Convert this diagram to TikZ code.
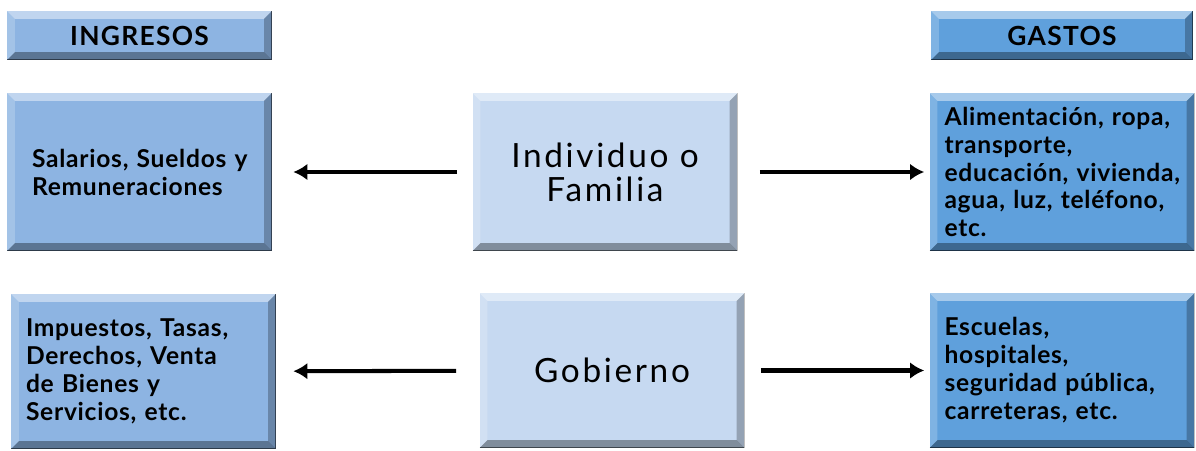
\documentclass[tikz,border=0pt]{standalone}
\usepackage{fontspec}
\setmainfont{Lato}
\newfontfamily\sidefont[LetterSpace=3]{Lato}
\newfontfamily\headfont[LetterSpace=5]{Lato}
\newfontfamily\midfont[LetterSpace=8]{Lato}
\usepackage{tikz}
\usetikzlibrary{positioning,arrows.meta}

\definecolor{ingcol}{HTML}{8DB4E2}
\definecolor{gascol}{HTML}{5FA0DC}
\definecolor{midcol}{HTML}{C6D9F1}
\newcommand{\bevw}{4.5pt}

\begin{document}
\begin{tikzpicture}[x=0.02cm,y=-0.02cm]
        \tikzstyle{bevel}=[path picture={
            \coordinate (pnw) at (path picture bounding box.north west);
            \coordinate (pne) at (path picture bounding box.north east);
            \coordinate (psw) at (path picture bounding box.south west);
            \coordinate (pse) at (path picture bounding box.south east);
            \fill[white,opacity=.45] (pnw) -- (pne) -- ([shift={(-\bevw,-\bevw)}]pne) -- ([shift={(\bevw,-\bevw)}]pnw) -- cycle;
            \fill[white,opacity=.2] (pnw) -- ([shift={(\bevw,-\bevw)}]pnw) -- ([shift={(\bevw,\bevw)}]psw) -- (psw) -- cycle;
            \fill[black,opacity=.25] (pne) -- (pse) -- ([shift={(-\bevw,\bevw)}]pse) -- ([shift={(-\bevw,-\bevw)}]pne) -- cycle;
            \fill[black,opacity=.35] (psw) -- (pse) -- ([shift={(-\bevw,\bevw)}]pse) -- ([shift={(\bevw,\bevw)}]psw) -- cycle;
            \draw[black,opacity=.5,line width=1pt] (pne) -- (pse) -- (psw);
        }]
        \tikzstyle{head}=[bevel,inner sep=0pt,minimum width=5.3cm,minimum height=0.98cm,font=\headfont\fontsize{15}{17}\selectfont\bfseries]
        \tikzstyle{side}=[bevel,inner xsep=0.3cm,inner ysep=0pt,text width=4.7cm,align=left,minimum height=3.16cm,font=\sidefont\fontsize{14}{15.9}\selectfont\bfseries]
        \tikzstyle{mid}=[bevel,fill=midcol,inner sep=0pt,minimum width=5.3cm,minimum height=3.16cm,align=center,font=\midfont\fontsize{19}{19.3}\selectfont]
        \tikzstyle{flow}=[line width=2.3pt,-{Latex[length=8pt,width=9.5pt]}]

        \useasboundingbox (0,0) rectangle (1196,450);

        \draw (139.5,35.5) node[head,fill=ingcol] (ingresos) {INGRESOS};
        \draw (1062,35.5) node[head,fill=gascol,minimum width=5.24cm] (gastos) {GASTOS};

        \draw (139.5,172) node[side,fill=ingcol] (salarios) {\hspace*{0.2cm}Salarios, Sueldos y\\\hspace*{0.2cm}Remuneraciones};
        \draw (605,172) node[mid] (familia) {Individuo o\\Familia};
        \draw (1062,172) node[side,fill=gascol] (alimentos) {Alimentación, ropa,\\transporte,\\educación, vivienda,\\agua, luz, teléfono,\\etc.};

        \draw (143.5,371.5) node[side,fill=ingcol,minimum height=3.1cm] (impuestos) {Impuestos, Tasas,\\Derechos, Venta\\de Bienes y\\Servicios, etc.};
        \draw (612,370.5) node[mid,minimum height=3.1cm] (gobierno) {Gobierno};
        \draw (1062,370.5) node[side,fill=gascol,minimum height=3.1cm] (escuelas) {Escuelas,\\hospitales,\\seguridad pública,\\carreteras, etc.};

        \draw[flow,shorten <=0.3cm,shorten >=0.42cm] (familia) -- (salarios);
        \draw[flow,shorten <=0.44cm,shorten >=0.1cm] (familia) -- (alimentos);
        \draw[flow,shorten <=0.46cm,shorten >=0.34cm] (gobierno) -- (impuestos);
        \draw[flow,shorten <=0.32cm,shorten >=0.1cm] (gobierno) -- (escuelas);
    \end{tikzpicture}
\end{document}
